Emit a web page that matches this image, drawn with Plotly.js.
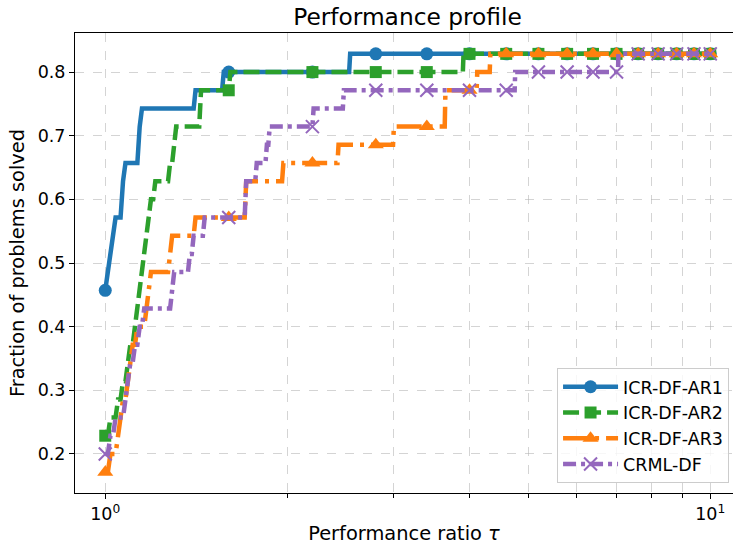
<!DOCTYPE html>
<html>
<head>
<meta charset="utf-8">
<script src="https://cdn.plot.ly/plotly-3.0.1.min.js"></script>
<style>html,body{margin:0;padding:0;background:#fff;}#chart{width:733px;height:545px;}</style>
</head>
<body>
<div id="chart"></div>
<script>
// ---- data: fraction of problems solved at performance ratio tau (value holds from each tau) ----
const seriesNames = ['ICR-DF-AR1', 'ICR-DF-AR2', 'ICR-DF-AR3', 'CRML-DF'];

const ar1Tau = [1.00, 1.01, 1.02, 1.03, 1.04, 1.07, 1.08, 1.14, 1.15, 1.41, 1.57, 2.54, 10.0];
const ar1Val = [0.4571, 0.4857, 0.5143, 0.5429, 0.5714, 0.6286, 0.6571, 0.7143, 0.7429, 0.7714, 0.8000, 0.8286, 0.8286];

const ar2Tau = [1.00, 1.02, 1.05, 1.07, 1.09, 1.10, 1.12, 1.13, 1.14, 1.15, 1.16, 1.17, 1.18, 1.19, 1.21, 1.28, 1.30, 1.31, 1.44, 1.61, 3.91, 10.0];
const ar2Val = [0.2286, 0.2571, 0.2857, 0.3143, 0.3429, 0.3714, 0.4000, 0.4286, 0.4571, 0.4857, 0.5143, 0.5429, 0.5714, 0.6000, 0.6286, 0.6571, 0.6857, 0.7143, 0.7714, 0.8000, 0.8286, 0.8286];

const ar3Tau = [1.00, 1.02, 1.05, 1.06, 1.07, 1.09, 1.10, 1.11, 1.13, 1.17, 1.18, 1.19, 1.28, 1.29, 1.41, 1.71, 1.97, 2.43, 3.00, 3.65, 4.12, 4.33, 10.0];
const ar3Val = [0.1714, 0.2000, 0.2286, 0.2571, 0.2857, 0.3143, 0.3429, 0.3714, 0.4000, 0.4286, 0.4571, 0.4857, 0.5143, 0.5429, 0.5714, 0.6286, 0.6571, 0.6857, 0.7143, 0.7714, 0.8000, 0.8286, 0.8286];

const crmlTau = [1.00, 1.02, 1.04, 1.08, 1.09, 1.10, 1.12, 1.14, 1.16, 1.29, 1.30, 1.38, 1.40, 1.46, 1.71, 1.78, 1.85, 1.87, 2.21, 2.48, 4.76, 7.05, 10.0];
const crmlVal = [0.2000, 0.2286, 0.2571, 0.2857, 0.3143, 0.3429, 0.3714, 0.4000, 0.4286, 0.4571, 0.4857, 0.5143, 0.5429, 0.5714, 0.6286, 0.6571, 0.6857, 0.7143, 0.7429, 0.7714, 0.8000, 0.8286, 0.8286];

// tau values where markers are drawn
const markerTau = [1.0, 1.6, 2.2, 2.8, 3.4, 4.0, 4.6, 5.2, 5.8, 6.4, 7.0, 7.6, 8.2, 8.8, 9.4, 10.0];

// axis ticks
const xTickVals = [1, 10];
const xTickText = ['10<sup>0</sup>', '10<sup>1</sup>'];
const xMinorVals = [2, 3, 4, 5, 6, 7, 8, 9];
const yTickVals = [0.2, 0.3, 0.4, 0.5, 0.6, 0.7, 0.8];

// ---- styles ----
const gridStep = 0.01; // sampling step of tau in the original curves (jumps span one step)
const styles = [
  {color: '#1f77b4', dash: 'solid', symbol: 'circle'},
  {color: '#2ca02c', dash: '16px,6px', symbol: 'square'},
  {color: '#ff7f0e', dash: '25px,7px,4px,7px', symbol: 'triangle-up'},
  {color: '#9467bd', dash: '13px,5px,4px,5px', symbol: 'x-thin'}
];
const taus = [ar1Tau, ar2Tau, ar3Tau, crmlTau];
const vals = [ar1Val, ar2Val, ar3Val, crmlVal];

function stepAt(tArr, vArr, t) {
  let v = vArr[0];
  for (let i = 0; i < tArr.length; i++) { if (tArr[i] <= t + 1e-9) v = vArr[i]; }
  return v;
}
function sampledPath(tArr, vArr) {
  const xs = [tArr[0]], ys = [vArr[0]];
  for (let i = 1; i < tArr.length; i++) {
    if (vArr[i] !== vArr[i - 1]) {
      const tp = tArr[i] - gridStep;
      if (tp > xs[xs.length - 1] + 1e-9) { xs.push(tp); ys.push(vArr[i - 1]); }
    }
    xs.push(tArr[i]); ys.push(vArr[i]);
  }
  return {x: xs, y: ys};
}

const traces = [];
const LW = 4.5;
function markerFor(st) {
  if (st.symbol === 'x-thin') return {symbol: 'x-thin', size: 13, color: st.color, line: {color: st.color, width: 2}};
  if (st.symbol === 'triangle-up') return {symbol: 'triangle-up', size: 14, color: st.color, line: {width: 0}};
  if (st.symbol === 'square') return {symbol: 'square', size: 12, color: st.color, line: {width: 0}};
  return {symbol: 'circle', size: 13, color: st.color, line: {width: 0}};
}
for (let s = 0; s < 4; s++) {
  const st = styles[s];
  const p = sampledPath(taus[s], vals[s]);
  traces.push({
    x: p.x, y: p.y, type: 'scatter', mode: 'lines',
    line: {color: st.color, width: LW, dash: st.dash},
    showlegend: false, hoverinfo: 'skip'
  });
  traces.push({
    x: markerTau, y: markerTau.map(t => stepAt(taus[s], vals[s], t)),
    type: 'scatter', mode: 'markers', marker: markerFor(st),
    showlegend: false, hoverinfo: 'skip'
  });
}
for (let s = 0; s < 4; s++) {
  const st = styles[s];
  traces.push({
    x: [null], y: [null], type: 'scatter', mode: 'lines+markers', name: seriesNames[s],
    line: {color: st.color, width: LW, dash: st.dash}, marker: markerFor(st)
  });
}

const gridCol = 'rgba(176,176,176,0.55)';
const layout = {
  width: 733, height: 545,
  margin: {l: 75, r: 0, t: 33, b: 52},
  paper_bgcolor: '#fff', plot_bgcolor: '#fff',
  font: {family: 'DejaVu Sans', color: '#000', size: 17.5},
  title: {text: 'Performance profile', font: {size: 23.3, family: 'DejaVu Sans'},
          x: 0.5053, xanchor: 'center', xref: 'paper', y: 0.969, yanchor: 'middle', yref: 'container'},
  xaxis: {
    type: 'log', range: [-0.05, 1.0376],
    tickmode: 'array', tickvals: xTickVals, ticktext: xTickText,
    ticks: 'outside', ticklen: 5, tickwidth: 1, tickcolor: '#000',
    showline: true, linecolor: '#000', linewidth: 1, mirror: true,
    showgrid: true, gridcolor: gridCol, griddash: 'dash', gridwidth: 1,
    zeroline: false,
    tickfont: {size: 17.5},
    minor: {tickmode: 'array', tickvals: xMinorVals, ticks: 'outside', ticklen: 4, tickwidth: 1, tickcolor: '#000',
            showgrid: true, gridcolor: gridCol, griddash: 'dash', gridwidth: 1},
    title: {text: 'Performance ratio <i>τ</i>', font: {size: 19.4}, standoff: 4}
  },
  yaxis: {
    range: [0.1386, 0.8614],
    tickmode: 'array', tickvals: yTickVals, tickformat: '.1f',
    ticks: 'outside', ticklen: 5, tickwidth: 1, tickcolor: '#000',
    showline: true, linecolor: '#000', linewidth: 1, mirror: false,
    showgrid: true, gridcolor: gridCol, griddash: 'dash', gridwidth: 1,
    zeroline: false,
    tickfont: {size: 17.5},
    title: {text: 'Fraction of problems solved', font: {size: 19.4}, standoff: 7}
  },
  legend: {
    x: 0.994, y: 0.022, xanchor: 'right', yanchor: 'bottom',
    bgcolor: 'rgba(255,255,255,0.8)', bordercolor: '#cccccc', borderwidth: 1,
    font: {size: 17.5}, itemwidth: 55, tracegroupgap: 0
  },
  showlegend: true
};

Plotly.newPlot('chart', traces, layout, {staticPlot: true, displayModeBar: false});
</script>
</body>
</html>
